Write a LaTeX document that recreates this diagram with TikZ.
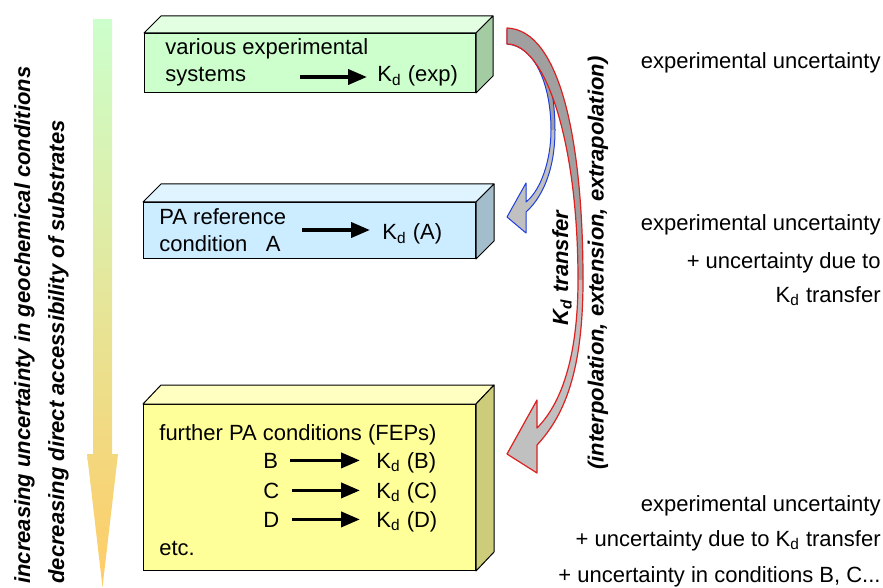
\documentclass[tikz,border=0pt]{standalone}
\usepackage{fontspec}
\setmainfont{Liberation Sans}
\usetikzlibrary{arrows.meta}

\definecolor{expfront}{HTML}{CCFFCC}
\definecolor{exptop}{HTML}{E2FFE2}
\definecolor{expside}{HTML}{A3CCA3}
\definecolor{reffront}{HTML}{CCECFF}
\definecolor{reftop}{HTML}{E0F4FF}
\definecolor{refside}{HTML}{A3BDCC}
\definecolor{furfront}{HTML}{FFFF99}
\definecolor{furtop}{HTML}{FFFFC2}
\definecolor{furside}{HTML}{CCCC7A}
\definecolor{gradtop}{HTML}{CCFFCC}
\definecolor{gradbot}{HTML}{FFCC66}
\definecolor{shaftdark}{HTML}{A0A0A0}
\definecolor{shaftlight}{HTML}{C0C0C0}
\definecolor{redline}{HTML}{DD2020}
\definecolor{blueline}{HTML}{1F3FD8}

\begin{document}
\begin{tikzpicture}[x=0.5pt, y=-0.5pt, font=\fontsize{11}{13}\selectfont]

	\tikzstyle{front}=[draw, line width=0.5pt, inner sep=0, anchor=north west]
	\tikzstyle{face}=[draw, line width=0.5pt, line join=round]
	\tikzstyle{txt}=[inner sep=0, anchor=base west]
	\tikzstyle{rtxt}=[inner sep=0, anchor=base east]
	\tikzstyle{vtxt}=[inner sep=0, rotate=90, font=\fontsize{11}{13}\selectfont\bfseries\itshape]

	\tikzstyle{kd}=[line width=1.9pt, -{Triangle[length=9.5pt, width=7.5pt]}]

	\useasboundingbox (0,0) rectangle (883,588);

	% increasing uncertainty
	\shade[top color=gradtop, bottom color=gradbot] (93,19) -- (112,19) -- (112,454) -- (118,454) -- (102.5,587) -- (87,454) -- (93,454) -- cycle;

	\node[vtxt, anchor=base west] (incr) at (30,584) {increasing uncertainty in geochemical conditions};
	\node[vtxt, anchor=base west] (decr) at (64,584) {decreasing direct accessibility of substrates};


	% boxes
	\node[front, fill=expfront, minimum width=165.5pt, minimum height=29.5pt] (expbox) at (144,33) {};
	\draw[face, fill=exptop] (expbox.north west) -- ++(17,-17) -- ([shift={(17,-17)}]expbox.north east) -- (expbox.north east) -- cycle;
	\draw[face, fill=expside] (expbox.north east) -- ++(17,-17) -- ([shift={(17,-17)}]expbox.south east) -- (expbox.south east) -- cycle;

	\node[front, fill=reffront, minimum width=166pt, minimum height=28pt] (refbox) at (143,202) {};
	\draw[face, fill=reftop] (refbox.north west) -- ++(18,-18) -- ([shift={(18,-18)}]refbox.north east) -- (refbox.north east) -- cycle;
	\draw[face, fill=refside] (refbox.north east) -- ++(18,-18) -- ([shift={(18,-18)}]refbox.south east) -- (refbox.south east) -- cycle;

	\node[front, fill=furfront, minimum width=166pt, minimum height=83pt] (furbox) at (143,404) {};
	\draw[face, fill=furtop] (furbox.north west) -- ++(18,-19) -- ([shift={(18,-19)}]furbox.north east) -- (furbox.north east) -- cycle;
	\draw[face, fill=furside] (furbox.north east) -- ++(18,-19) -- ([shift={(18,-19)}]furbox.south east) -- (furbox.south east) -- cycle;


	\node[txt] (various) at (165,55) {various experimental};
	\node[txt] (systems) at (165,82) {systems};
	\node[txt] (kdexp) at (377,82) {K\textsubscript{d} (exp)};
	\coordinate (expstart) at (300,77);
	\draw[kd, shorten >=5pt] (expstart) -- (expstart -| kdexp.west);

	\node[txt] (paref) at (159,225) {PA reference};
	\node[txt] (condA) at (159,252) {condition\ \ \ A};
	\node[txt] (kdA) at (382,240) {K\textsubscript{d} (A)};
	\coordinate (refstart) at (302,230);
	\draw[kd, shorten >=6pt] (refstart) -- (refstart -| kdA.west);

	\node[txt] (further) at (159,440) {further PA conditions (FEPs)};
	\foreach \c/\y in {B/468, C/498, D/527}{
		\node[txt] (cond\c) at (263,\y) {\c};
		\node[txt] (kd\c) at (376,\y) {K\textsubscript{d} (\c)};
		\draw[kd, shorten <=6pt, shorten >=8pt] (cond\c.east) -- (cond\c.east -| kd\c.west);
	}
	\node[txt] (etc) at (159,555) {etc.};


	% transfer arrows
	\fill[shaftdark] (507,30) .. controls (540,30) and (555,80) .. (555,130) -- (551,130) .. controls (551,85) and (535,46) .. (507,44) -- cycle;
	\fill[shaftlight] (555,130) .. controls (555,165) and (545,195) .. (526,212) -- (526,233) -- (507,217) -- (526,183) -- (526,202) .. controls (541,190) and (551,160) .. (551,130) -- cycle;
	\draw[blueline, line width=0.5pt, line join=round] (507,30) .. controls (540,30) and (555,80) .. (555,130) .. controls (555,165) and (545,195) .. (526,212) -- (526,233) -- (507,217) -- (526,183) -- (526,202) .. controls (541,190) and (551,160) .. (551,130) .. controls (551,85) and (535,46) .. (507,44) -- cycle;

	\fill[shaftdark] (507,28) .. controls (560,30) and (583,140) .. (583,280) -- (578,280) .. controls (578,140) and (545,44) .. (507,44) -- cycle;
	\fill[shaftlight] (583,280) .. controls (583,370) and (565,415) .. (537,445) -- (537,473) -- (507,454) -- (537,400) -- (537,428) .. controls (560,405) and (578,360) .. (578,280) -- cycle;
	\draw[redline, line width=0.6pt, line join=round] (507,28) .. controls (560,30) and (583,140) .. (583,280) .. controls (583,370) and (565,415) .. (537,445) -- (537,473) -- (507,454) -- (537,400) -- (537,428) .. controls (560,405) and (578,360) .. (578,280) .. controls (578,140) and (545,44) .. (507,44) -- cycle;

	\node[vtxt] (kdtransfer) at (562,268) {K\textsubscript{d} transfer};
	\node[vtxt] (interp) at (598,263) {(interpolation, extension, extrapolation)};


	% uncertainty
	\node[rtxt] (unc1) at (881,69) {experimental uncertainty};
	\node[rtxt] (unc2) at (881,231) {experimental uncertainty};
	\node[rtxt] (unc3) at (881,269) {+ uncertainty due to};
	\node[rtxt] (unc4) at (881,302) {K\textsubscript{d} transfer};
	\node[rtxt] (unc5) at (881,511) {experimental uncertainty};
	\node[rtxt] (unc6) at (881,546) {+ uncertainty due to K\textsubscript{d} transfer};
	\node[rtxt] (unc7) at (881,582) {+ uncertainty in conditions B, C...};

\end{tikzpicture}
\end{document}
